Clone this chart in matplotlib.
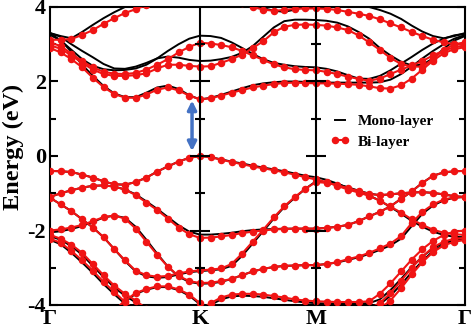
import numpy as np
import matplotlib
matplotlib.use('Agg')
import matplotlib.pyplot as plt

plt.rcParams['font.family'] = ['Liberation Serif', 'DejaVu Serif']
plt.rcParams['font.weight'] = 'bold'
plt.rcParams['axes.unicode_minus'] = False

nan = np.nan

# high-symmetry points along the path
k_labels = ['Γ', 'K', 'M', 'Γ']
k_sym = [0.0, 1.0, 1.773, 2.767]

# 15 points Γ-K, 11 more K-M, 14 more M-Γ
k = np.concatenate([np.linspace(k_sym[0], k_sym[1], 15),
                    np.linspace(k_sym[1], k_sym[2], 12)[1:],
                    np.linspace(k_sym[2], k_sym[3], 15)[1:]])

# ---- bi-layer (red) bands, eV ----
bi_c1 = [2.90, 2.78, 2.60, 2.38, 2.10, 1.85, 1.66, 1.57, 1.56, 1.65, 1.78, 1.84, 1.76, 1.62, 1.52,
         1.55, 1.62, 1.70, 1.77, 1.84, 1.89, 1.93, 1.96, 1.97, 1.96, 1.95,
         1.95, 1.94, 1.93, 1.91, 1.87, 1.82, 1.81, 1.90, 2.08, 2.32, 2.56, 2.76, 2.87, 2.92]
bi_c2 = [3.05, 2.95, 2.75, 2.55, 2.38, 2.26, 2.21, 2.20, 2.23, 2.32, 2.45, 2.60, 2.78, 2.93, 3.04,
         3.02, 2.98, 2.92, 2.82, 2.70, 2.58, 2.46, 2.38, 2.33, 2.31, 2.30,
         2.26, 2.20, 2.13, 2.07, 2.02, 2.08, 2.20, 2.32, 2.43, 2.55, 2.70, 2.83, 2.92, 2.97]
bi_c3 = [2.97, 2.88, 2.70, 2.50, 2.32, 2.20, 2.15, 2.15, 2.17, 2.22, 2.35, 2.45, 2.45, 2.42, 2.40,
         2.41, 2.50, 2.60, 2.72, 2.90, 3.08, 3.32, 3.47, 3.52, 3.53, 3.52,
         3.50, 3.45, 3.38, 3.24, 3.05, 2.85, 2.63, 2.47, 2.40, 2.40, 2.60, 2.85, 3.00, 3.05]
bi_c4 = [3.12, 3.12, 3.14, 3.25, 3.38, 3.55, 3.70, 3.84, 3.94, 4.05, 4.15, 4.25, 4.30, 4.35, 4.35,
         4.35, 4.30, 4.20, 4.10, 4.00, 3.93, 3.90, 3.92, 3.95, 3.96, 3.96,
         3.95, 3.92, 3.87, 3.82, 3.76, 3.67, 3.56, 3.45, 3.33, 3.22, 3.12, 3.05, 3.00, 3.00]
bi_v1 = [-0.40, -0.41, -0.43, -0.50, -0.58, -0.68, -0.76, -0.77, -0.70, -0.58, -0.42, -0.28, -0.15, -0.05, 0.00,
         -0.03, -0.10, -0.16, -0.22, -0.28, -0.33, -0.38, -0.44, -0.50, -0.57, -0.63,
         -0.70, -0.80, -0.90, -0.98, -1.07, -1.20, -1.36, -1.52, -1.70, -1.85, -1.98, -2.06, -2.10, -2.12]
bi_v2 = [-1.10, -1.00, -0.92, -0.85, -0.80, -0.79, -0.82, -0.90, -1.05, -1.25, -1.45, -1.68, -1.92, -2.10, -2.20,
         -2.19, -2.16, -2.12, -2.07, -2.03, -2.00, -1.97, -1.96, -1.95, -1.95, -1.95,
         -1.93, -1.90, -1.85, -1.75, -1.62, -1.50, -1.35, -1.15, -0.95, -0.72, -0.53, -0.44, -0.41, -0.40]
bi_v3 = [-1.12, -1.30, -1.48, -1.70, -1.92, -2.18, -2.50, -2.80, -3.08, -3.20, -3.24, -3.22, -3.15, -3.10, -3.07,
         -3.05, -3.02, -2.90, -2.62, -2.30, -1.98, -1.65, -1.35, -1.10, -0.88, -0.70,
         -0.72, -0.78, -0.86, -0.94, -1.02, -1.05, -1.03, -1.00, -0.98, -0.97, -0.99, -1.03, -1.08, -1.10]
bi_v4 = [-2.00, -1.97, -1.92, -1.85, -1.75, -1.64, -1.60, -1.68, -1.95, -2.30, -2.65, -2.97, -3.22, -3.36, -3.41,
         -3.40, -3.36, -3.30, -3.20, -3.10, -3.03, -2.98, -2.95, -2.94, -2.93, -2.93,
         -2.90, -2.85, -2.77, -2.70, -2.60, -2.48, -2.35, -2.15, -1.80, -1.50, -1.30, -1.17, -1.11, -1.10]
bi_v5 = [-2.12, -2.22, -2.38, -2.60, -2.90, -3.20, -3.48, -3.70, -3.88, -4.10, nan, nan, nan, nan, -4.15,
         -3.95, -3.80, -3.72, -3.70, -3.70, -3.72, -3.76, -3.80, -3.85, -3.88, -3.90,
         -3.91, -3.92, -3.92, -3.92, -3.90, -3.70, -3.42, -3.10, -2.78, -2.50, -2.28, -2.12, -2.03, -2.00]
bi_v6 = [-2.22, -2.33, -2.55, -2.80, -3.08, -3.38, -3.65, -3.92, -4.15, nan, nan, nan, nan, nan, nan,
         nan, nan, nan, nan, nan, nan, nan, nan, nan, nan, nan,
         nan, nan, nan, nan, -4.10, -3.95, -3.68, -3.35, -3.00, -2.70, -2.45, -2.30, -2.22, -2.20]
bi_v7 = [nan, nan, nan, nan, nan, nan, -4.15, -3.88, -3.68, -3.57, -3.50, -3.50, -3.58, -3.72, -3.95,
         -4.15, nan, nan, nan, nan, nan, nan, nan, nan, nan, nan,
         nan, nan, nan, nan, nan, -4.10, -3.88, -3.55, -3.18, -2.85, -2.58, -2.40, -2.30, -2.25]

# ---- mono-layer (black) bands, eV ----
mono_c1 = [3.25, 3.10, 2.80, 2.45, 2.15, 1.88, 1.68, 1.58, 1.58, 1.70, 1.84, 1.89, 1.80, 1.63, 1.52,
           1.56, 1.64, 1.73, 1.82, 1.90, 1.95, 1.98, 2.00, 2.00, 1.99, 1.98,
           1.97, 1.97, 1.97, 1.97, 1.97, 1.98, 2.05, 2.20, 2.40, 2.62, 2.82, 3.00, 3.15, 3.25]
mono_c2 = [3.30, 3.10, 2.85, 2.60, 2.42, 2.33, 2.30, 2.31, 2.35, 2.45, 2.62, 2.82, 3.00, 3.15, 3.23,
           3.22, 3.17, 3.05, 2.90, 2.74, 2.60, 2.50, 2.45, 2.41, 2.39, 2.38,
           2.34, 2.27, 2.17, 2.08, 2.07, 2.15, 2.30, 2.48, 2.66, 2.85, 3.02, 3.15, 3.24, 3.28]
mono_c3 = [3.30, 3.20, 3.00, 2.82, 2.65, 2.47, 2.35, 2.34, 2.40, 2.50, 2.62, 2.67, 2.64, 2.58, 2.55,
           2.56, 2.60, 2.66, 2.77, 2.95, 3.20, 3.45, 3.62, 3.66, 3.66, 3.65,
           3.63, 3.58, 3.48, 3.33, 3.15, 2.90, 2.70, 2.53, 2.43, 2.45, 2.62, 2.88, 3.10, 3.22]
mono_c4 = [3.30, 3.22, 3.16, 3.33, 3.52, 3.70, 3.86, 4.00, 4.12, 4.20, 4.30, 4.35, 4.40, 4.40, 4.40,
           4.40, 4.35, 4.25, 4.15, 4.05, 3.97, 3.90, 3.87, 3.93, 4.02, 4.08,
           4.10, 4.10, 4.08, 4.05, 4.00, 3.92, 3.82, 3.68, 3.50, 3.34, 3.22, 3.16, 3.22, 3.30]
mono_v1 = [-0.40, -0.41, -0.43, -0.50, -0.58, -0.68, -0.76, -0.77, -0.70, -0.58, -0.42, -0.28, -0.15, -0.05, 0.00,
           -0.03, -0.09, -0.15, -0.20, -0.26, -0.31, -0.36, -0.41, -0.47, -0.53, -0.57,
           -0.64, -0.74, -0.85, -0.95, -1.06, -1.20, -1.37, -1.55, -1.74, -1.90, -2.03, -2.12, -2.17, -2.18]
mono_v2 = [-1.10, -1.00, -0.92, -0.85, -0.80, -0.79, -0.82, -0.90, -1.03, -1.22, -1.42, -1.64, -1.86, -2.03, -2.11,
           -2.11, -2.09, -2.06, -2.02, -1.99, -1.97, -1.96, -1.95, -1.95, -1.95, -1.95,
           -1.93, -1.90, -1.85, -1.75, -1.62, -1.50, -1.35, -1.15, -0.95, -0.72, -0.53, -0.44, -0.41, -0.40]
mono_v3 = [-1.12, -1.30, -1.48, -1.70, -1.92, -2.18, -2.50, -2.82, -3.10, -3.23, -3.27, -3.25, -3.18, -3.12, -3.09,
           -3.07, -3.04, -2.95, -2.68, -2.35, -2.02, -1.68, -1.37, -1.12, -0.88, -0.68,
           -0.70, -0.76, -0.84, -0.93, -1.01, -1.05, -1.03, -1.00, -0.98, -0.97, -0.99, -1.03, -1.08, -1.10]
mono_v4 = [-2.05, -2.02, -1.96, -1.88, -1.77, -1.65, -1.60, -1.66, -1.90, -2.25, -2.62, -2.97, -3.24, -3.38, -3.43,
           -3.42, -3.38, -3.30, -3.20, -3.10, -3.03, -2.98, -2.95, -2.94, -2.93, -2.93,
           -2.90, -2.86, -2.79, -2.72, -2.63, -2.52, -2.40, -2.22, -1.88, -1.55, -1.33, -1.19, -1.12, -1.10]
mono_v5 = [-2.15, -2.25, -2.42, -2.65, -2.95, -3.25, -3.53, -3.75, -3.93, -4.15, nan, nan, nan, nan, -4.20,
           -4.00, -3.85, -3.77, -3.75, -3.76, -3.78, -3.82, -3.86, -3.90, -3.93, -3.95,
           -3.96, -3.96, -3.96, -3.96, -3.95, -3.85, -3.60, -3.30, -2.98, -2.70, -2.48, -2.33, -2.26, -2.25]
mono_v6 = [-2.25, -2.37, -2.60, -2.86, -3.14, -3.44, -3.71, -3.97, -4.20, nan, nan, nan, nan, nan, nan,
           nan, nan, nan, nan, nan, nan, nan, nan, nan, nan, nan,
           nan, nan, nan, nan, -4.10, -3.98, -3.75, -3.45, -3.12, -2.82, -2.55, -2.38, -2.28, -2.25]
mono_v7 = [nan, nan, nan, nan, nan, nan, -4.17, -3.90, -3.70, -3.59, -3.52, -3.52, -3.60, -3.75, -3.98,
           -4.18, nan, nan, nan, nan, nan, nan, nan, nan, nan, nan,
           nan, nan, nan, nan, nan, nan, nan, nan, nan, nan, nan, nan, nan, nan]

mono = [mono_c1, mono_c2, mono_c3, mono_c4, mono_v1, mono_v2, mono_v3, mono_v4, mono_v5, mono_v6, mono_v7]
bi = [bi_c1, bi_c2, bi_c3, bi_c4, bi_v1, bi_v2, bi_v3, bi_v4, bi_v5, bi_v6, bi_v7]

red = '#f01414'

fig = plt.figure(figsize=(4.74, 3.28), dpi=100)
ax = fig.add_axes([50 / 474, 23 / 328, 415 / 474, 298 / 328])

for i, band in enumerate(mono):
    ax.plot(k, band, color='black', lw=1.4, zorder=2,
            label='Mono-layer' if i == 0 else None)
for i, band in enumerate(bi):
    ax.plot(k, band, color=red, lw=1.5, marker='o', ms=4.4, zorder=3,
            label='Bi-layer' if i == 0 else None)

# vertical lines at K and M with crossing ticks
for ks in k_sym[1:3]:
    ax.axvline(ks, color='black', lw=1.5, zorder=4)
    ax.plot([ks] * 3, [-2, 0, 2], ls='none', marker='_', ms=14, mew=1.5, color='black', zorder=5)
    ax.plot([ks] * 4, [-3, -1, 1, 3], ls='none', marker='_', ms=7, mew=1.5, color='black', zorder=5)

# band gap arrow
ax.annotate('', xy=(0.947, 0.13), xytext=(0.947, 1.49),
            arrowprops=dict(arrowstyle='<|-|>', color='#4472c4', lw=2.5,
                            mutation_scale=13, shrinkA=0, shrinkB=0), zorder=6)

ax.set_xlim(k_sym[0], k_sym[-1])
ax.set_ylim(-4, 4)
ax.set_xticks(k_sym)
ax.set_xticklabels(k_labels)
ax.set_yticks([-4, -2, 0, 2, 4])
ax.set_yticks([-3, -1, 1, 3], minor=True)
ax.tick_params(axis='x', length=0, labelsize=16, pad=3)
ax.tick_params(axis='y', which='major', direction='in', length=6, width=1.5,
               right=True, labelsize=16, pad=3)
ax.tick_params(axis='y', which='minor', direction='in', length=4, width=1.5, right=True)
for sp in ax.spines.values():
    sp.set_linewidth(1.5)
ax.set_ylabel('Energy (eV)', fontsize=17.5, fontweight='bold')
ax.yaxis.set_label_coords(-0.062, 0.53)

ax.legend(loc='upper left', bbox_to_anchor=(0.675, 0.64), frameon=False,
          fontsize=11, handlelength=1.3, handletextpad=0.5, labelspacing=0.45,
          borderpad=0, borderaxespad=0, numpoints=2)

fig.savefig('out.png', dpi=100)
